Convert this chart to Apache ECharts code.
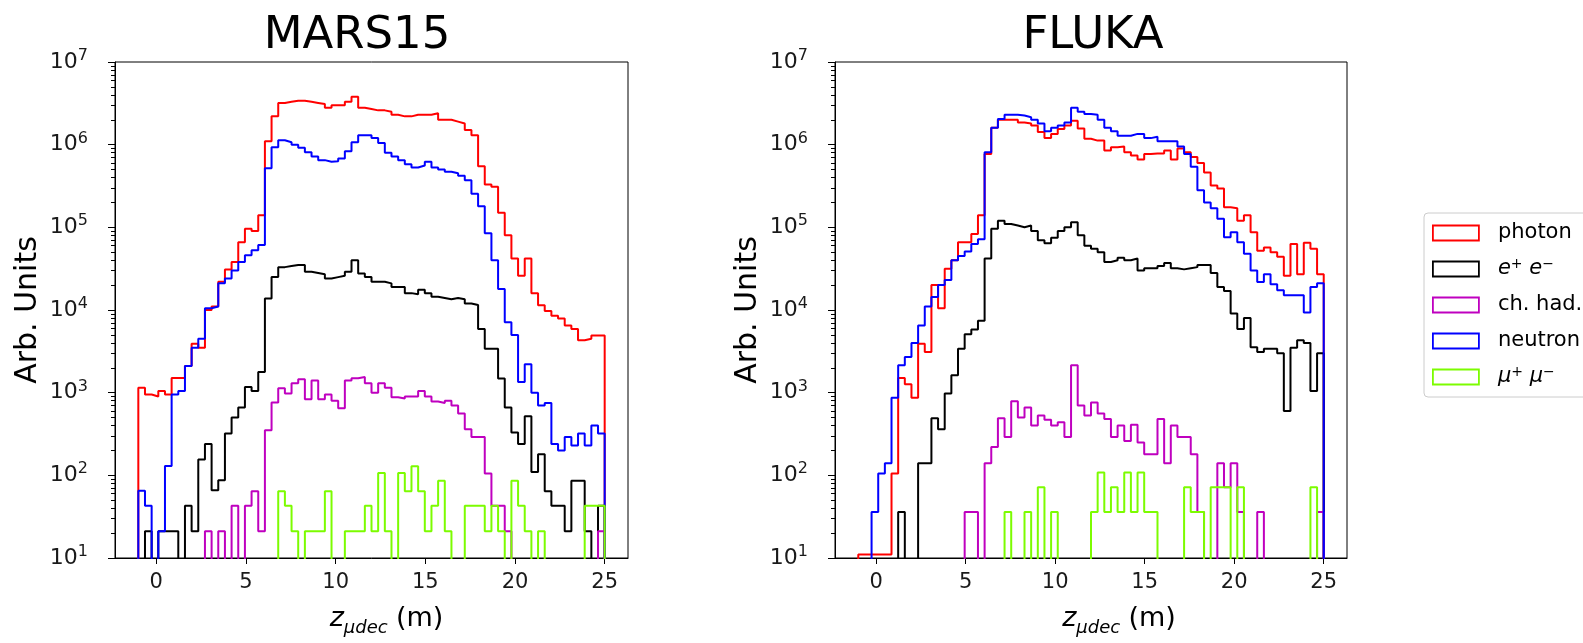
<!DOCTYPE html>
<html>
<head>
<meta charset="utf-8">
<script src="https://cdn.jsdelivr.net/npm/echarts@6/dist/echarts.min.js"></script>
<style>
  html, body { margin: 0; padding: 0; background: #ffffff; }
  #chart { width: 1583px; height: 643px; }
</style>
</head>
<body>
<div id="chart"></div>
<script>
// Histogram binning: 70 equal bins of muon decay position from -1 m to 25 m
const binLow = -1;
const binHigh = 25;
const binCount = 70;

// ---- MARS15 (arbitrary units per bin) ----
const marsPhoton = [
  1150, 950, 900, 1050, 950, 1500, 1500, 2100, 3900, 3500,
  10000, 11000, 22000, 31000, 38000, 66000, 96000, 90000, 140000, 1100000,
  2200000, 3200000, 3300000, 3400000, 3400000, 3300000, 3200000, 3100000, 2800000, 3000000,
  3000000, 3300000, 3800000, 2800000, 2700000, 2600000, 2600000, 2500000, 2300000, 2200000,
  2200000, 2300000, 2300000, 2300000, 2400000, 2000000, 2000000, 1900000, 1800000, 1500000,
  1300000, 550000, 330000, 310000, 150000, 80000, 42000, 26000, 42000, 16000,
  11400, 9700, 8500, 7900, 6500, 5900, 4300, 4500, 4900, 4900
];
const marsElectron = [
  0, 21, 0, 21, 21, 21, 0, 43, 21, 155,
  240, 66, 87, 320, 500, 660, 1170, 1050, 1780, 13800,
  25000, 33000, 34000, 35000, 35000, 29000, 28000, 27000, 24000, 25000,
  26000, 29000, 40000, 27700, 25000, 22000, 22000, 21000, 19000, 19000,
  16000, 15500, 17600, 16000, 14500, 14000, 13500, 14000, 13500, 12000,
  11500, 5900, 3400, 3400, 1480, 660, 330, 240, 520, 110,
  180, 64, 43, 43, 21, 86, 86, 21, 0, 43
];
const marsHadron = [
  0, 0, 0, 0, 0, 0, 0, 0, 0, 0,
  21, 0, 21, 0, 43, 0, 43, 64, 21, 350,
  760, 1130, 980, 1300, 1450, 830, 1400, 830, 950, 800,
  650, 1400, 1490, 1550, 1300, 1000, 1300, 1150, 880, 850,
  900, 900, 1050, 900, 780, 750, 800, 700, 560, 360,
  290, 290, 105, 43, 43, 21, 0, 0, 0, 0,
  0, 0, 0, 0, 0, 0, 0, 0, 0, 21
];
const marsNeutron = [
  65, 43, 0, 21, 130, 950, 1050, 2100, 3500, 4500,
  10500, 11000, 21000, 24000, 30000, 38000, 46000, 53000, 61000, 520000,
  930000, 1130000, 1070000, 1000000, 920000, 810000, 720000, 650000, 620000, 630000,
  680000, 830000, 1070000, 1300000, 1300000, 1200000, 1050000, 800000, 720000, 650000,
  580000, 530000, 560000, 620000, 530000, 500000, 470000, 450000, 420000, 370000,
  255000, 180000, 85000, 40000, 18000, 7100, 5000, 1350, 2200, 1000,
  700, 750, 240, 200, 290, 230, 320, 230, 400, 320
];
const marsMuon = [
  0, 0, 0, 0, 0, 0, 0, 0, 0, 0,
  0, 0, 0, 0, 0, 0, 0, 0, 0, 0,
  0, 64, 43, 21, 0, 21, 21, 21, 64, 0,
  0, 21, 21, 21, 43, 21, 107, 21, 0, 107,
  64, 129, 64, 21, 43, 86, 21, 0, 0, 43,
  43, 43, 21, 43, 21, 0, 86, 43, 21, 0,
  21, 0, 0, 0, 0, 0, 0, 43, 43, 43
];

// ---- FLUKA (arbitrary units per bin) ----
const flukaPhoton = [
  11, 11, 11, 11, 11, 105, 1500, 1260, 870, 3900,
  3100, 20000, 10500, 31500, 40000, 66000, 66000, 83000, 140000, 770000,
  1600000, 2000000, 2000000, 2000000, 1850000, 1800000, 1700000, 1420000, 1200000, 1350000,
  1550000, 1700000, 1950000, 1570000, 1180000, 1120000, 1120000, 850000, 930000, 950000,
  810000, 740000, 660000, 770000, 780000, 780000, 850000, 660000, 900000, 810000,
  710000, 600000, 460000, 320000, 295000, 175000, 170000, 120000, 140000, 87000,
  52000, 57000, 50000, 44000, 26000, 63000, 27000, 65000, 55000, 27000
];
const flukaElectron = [
  0, 0, 0, 0, 0, 0, 36, 0, 0, 140,
  140, 490, 360, 980, 1620, 3400, 5100, 5800, 7400, 42000,
  96000, 120000, 110000, 105000, 100000, 105000, 90000, 70000, 64000, 75000,
  90000, 100000, 115000, 80000, 60000, 55000, 50000, 38000, 40000, 43000,
  40000, 42000, 30000, 32000, 32000, 34000, 37000, 32000, 31000, 32000,
  33000, 35000, 35000, 28000, 19000, 17000, 9100, 5900, 8000, 3550,
  3100, 3400, 3400, 3000, 600, 3500, 4300, 4000, 1050, 3000
];
const flukaHadron = [
  0, 0, 0, 0, 0, 0, 0, 0, 0, 0,
  0, 0, 0, 0, 0, 0, 36, 36, 0, 140,
  220, 490, 290, 790, 500, 660, 400, 530, 470, 400,
  440, 290, 2150, 700, 530, 760, 560, 480, 290, 400,
  260, 410, 250, 180, 180, 480, 140, 400, 290, 290,
  180, 36, 0, 0, 140, 72, 140, 36, 0, 0,
  36, 0, 0, 0, 0, 0, 0, 0, 0, 36
];
const flukaNeutron = [
  0, 0, 36, 105, 140, 870, 2150, 2700, 4000, 6500,
  11000, 14400, 20000, 23000, 40000, 45000, 51000, 63000, 72000, 810000,
  1600000, 2050000, 2300000, 2300000, 2250000, 2150000, 2000000, 1800000, 1450000, 1600000,
  1700000, 1850000, 2800000, 2500000, 2350000, 2300000, 2000000, 1600000, 1450000, 1280000,
  1280000, 1350000, 1350000, 1200000, 1250000, 1100000, 1100000, 1100000, 950000, 770000,
  540000, 280000, 200000, 170000, 127000, 76000, 87000, 66000, 48000, 30000,
  21800, 27000, 20500, 17300, 15100, 15100, 15100, 9300, 19000, 21000
];
const flukaMuon = [
  0, 0, 0, 0, 0, 0, 0, 0, 0, 0,
  0, 0, 0, 0, 0, 0, 0, 0, 0, 0,
  0, 0, 36, 0, 0, 36, 0, 72, 0, 36,
  0, 0, 0, 0, 0, 36, 108, 36, 72, 36,
  108, 36, 108, 36, 36, 0, 0, 0, 0, 72,
  36, 36, 0, 72, 72, 72, 0, 72, 0, 0,
  0, 0, 0, 0, 0, 0, 0, 0, 72, 0
];

// Species shown in the legend, with their line colours
const speciesNames = ['photon', 'e+ e-', 'ch. had.', 'neutron', 'mu+ mu-'];
const speciesColors = ['#ff0000', '#000000', '#bf00bf', '#0000ff', '#7cfc00'];
const panelTitles = ['MARS15', 'FLUKA'];
const panelData = [
  [marsPhoton, marsElectron, marsHadron, marsNeutron, marsMuon],
  [flukaPhoton, flukaElectron, flukaHadron, flukaNeutron, flukaMuon]
];

// Axis ranges and ticks
const xMin = -2.3, xMax = 26.3;
const yMin = 10, yMax = 10000000;
const xTickValues = [0, 5, 10, 15, 20, 25];
const yDecades = [10, 100, 1000, 10000, 100000, 1000000, 10000000];
const yMinorTicks = [];
yDecades.slice(0, -1).forEach(d => { for (let m = 2; m <= 9; m++) yMinorTicks.push(d * m); });
const yAllTicks = yDecades.concat(yMinorTicks).sort((a, b) => a - b);

// Zero-count bins fall below the axis floor and are clipped by the grid
const belowFloor = 1;

function stepPoints(counts) {
  const width = (binHigh - binLow) / binCount;
  const pts = [[binLow, belowFloor]];
  counts.forEach((c, k) => pts.push([binLow + k * width, c > 0 ? c : belowFloor]));
  const last = counts[counts.length - 1];
  pts.push([binHigh, last > 0 ? last : belowFloor]);
  pts.push([binHigh, belowFloor]);
  return pts;
}

const FONT = 'DejaVu Sans';
const grids = [
  { left: 115, top: 62, width: 513, height: 496 },
  { left: 835, top: 62, width: 512, height: 496 }
];
const titleCenters = [357, 1093];
const xNameShift = [30, 56];

const xAxes = [], yAxes = [], series = [], titles = [];
grids.forEach((g, gi) => {
  titles.push({
    text: panelTitles[gi],
    left: titleCenters[gi],
    textAlign: 'center',
    top: 14,
    padding: 0,
    textStyle: { fontFamily: FONT, fontSize: 45, fontWeight: 'normal', color: '#000' }
  });
  xAxes.push({
    type: 'value', gridIndex: gi, min: xMin, max: xMax,
    name: '{z|z}{u|μdec} {m|(m)}',
    nameLocation: 'middle', nameGap: 43,
    nameTextStyle: {
      fontFamily: FONT, fontSize: 26, color: '#000',
      padding: [0, 0, 0, xNameShift[gi]],
      rich: {
        z: { fontFamily: FONT, fontStyle: 'italic', fontSize: 27, color: '#000', lineHeight: 36 },
        u: { fontFamily: FONT, fontStyle: 'italic', fontSize: 18, color: '#000', verticalAlign: 'bottom', lineHeight: 24 },
        m: { fontFamily: FONT, fontSize: 27, color: '#000', lineHeight: 36 }
      }
    },
    axisLine: { show: true, onZero: false, lineStyle: { color: '#000', width: 1 } },
    axisTick: { show: true, length: 6, customValues: xTickValues, lineStyle: { color: '#000', width: 1 } },
    axisLabel: { customValues: xTickValues, fontFamily: FONT, fontSize: 21, color: '#1a1a1a', margin: 14 },
    splitLine: { show: false }
  });
  // labelled log axis: every major and minor tick position
  yAxes.push({
    type: 'log', logBase: 10, gridIndex: gi, min: yMin, max: yMax,
    name: 'Arb. Units', nameLocation: 'middle', nameGap: 72, nameRotate: 90,
    nameTextStyle: { fontFamily: FONT, fontSize: 30, color: '#000' },
    axisLine: { show: true, onZero: false, lineStyle: { color: '#000', width: 1 } },
    axisTick: { show: true, length: 4, customValues: yAllTicks, lineStyle: { color: '#000', width: 1 } },
    axisLabel: {
      customValues: yDecades,
      margin: 27,
      formatter: v => '{b|10}{s|' + Math.round(Math.log10(v)) + '}',
      rich: {
        b: { fontFamily: FONT, fontSize: 22, color: '#1a1a1a', lineHeight: 28 },
        s: { fontFamily: FONT, fontSize: 16, color: '#1a1a1a', verticalAlign: 'top', lineHeight: 16 }
      }
    },
    splitLine: { show: false }
  });
  // longer ticks at each decade
  yAxes.push({
    type: 'log', logBase: 10, gridIndex: gi, min: yMin, max: yMax, position: 'left',
    axisLine: { show: false, onZero: false },
    axisTick: { show: true, length: 7, customValues: yDecades, lineStyle: { color: '#000', width: 1 } },
    axisLabel: { show: false },
    splitLine: { show: false }
  });
  panelData[gi].forEach((counts, si) => {
    series.push({
      name: speciesNames[si],
      type: 'line',
      xAxisIndex: gi,
      yAxisIndex: gi * 2,
      step: 'end',
      showSymbol: false,
      symbol: 'none',
      clip: true,
      data: stepPoints(counts),
      lineStyle: { color: speciesColors[si], width: 2 },
      itemStyle: { color: speciesColors[si] },
      z: 2 + si
    });
  });
});

const legendLabels = {
  'photon': 'photon',
  'e+ e-': '{i|e}{s|+} {i|e}{s|−}',
  'ch. had.': 'ch. had.',
  'neutron': 'neutron',
  'mu+ mu-': '{i|μ}{s|+} {i|μ}{s|−}'
};

const chart = echarts.init(document.getElementById('chart'), null, { renderer: 'canvas' });
chart.setOption({
  animation: false,
  backgroundColor: '#ffffff',
  title: titles,
  grid: grids.map(g => Object.assign({ show: true, borderColor: '#000', borderWidth: 1, backgroundColor: 'transparent' }, g)),
  xAxis: xAxes,
  yAxis: yAxes,
  legend: {
    orient: 'vertical',
    left: 1424, top: 213,
    padding: [8, 12, 8, 8],
    itemWidth: 46, itemHeight: 15, itemGap: 12,
    backgroundColor: '#ffffff',
    borderColor: '#cccccc', borderWidth: 1, borderRadius: 4,
    formatter: name => legendLabels[name],
    textStyle: {
      fontFamily: FONT, fontSize: 21, color: '#000', lineHeight: 24,
      padding: [0, 0, 0, 14],
      rich: {
        i: { fontFamily: FONT, fontStyle: 'italic', fontSize: 21, color: '#000', lineHeight: 24 },
        s: { fontFamily: FONT, fontSize: 14, color: '#000', verticalAlign: 'top', lineHeight: 14 }
      }
    },
    data: speciesNames.map((n, i) => ({
      name: n,
      icon: 'rect',
      itemStyle: { color: 'rgba(0,0,0,0)', borderColor: speciesColors[i], borderWidth: 1.8 }
    }))
  },
  series: series
});
</script>
</body>
</html>
